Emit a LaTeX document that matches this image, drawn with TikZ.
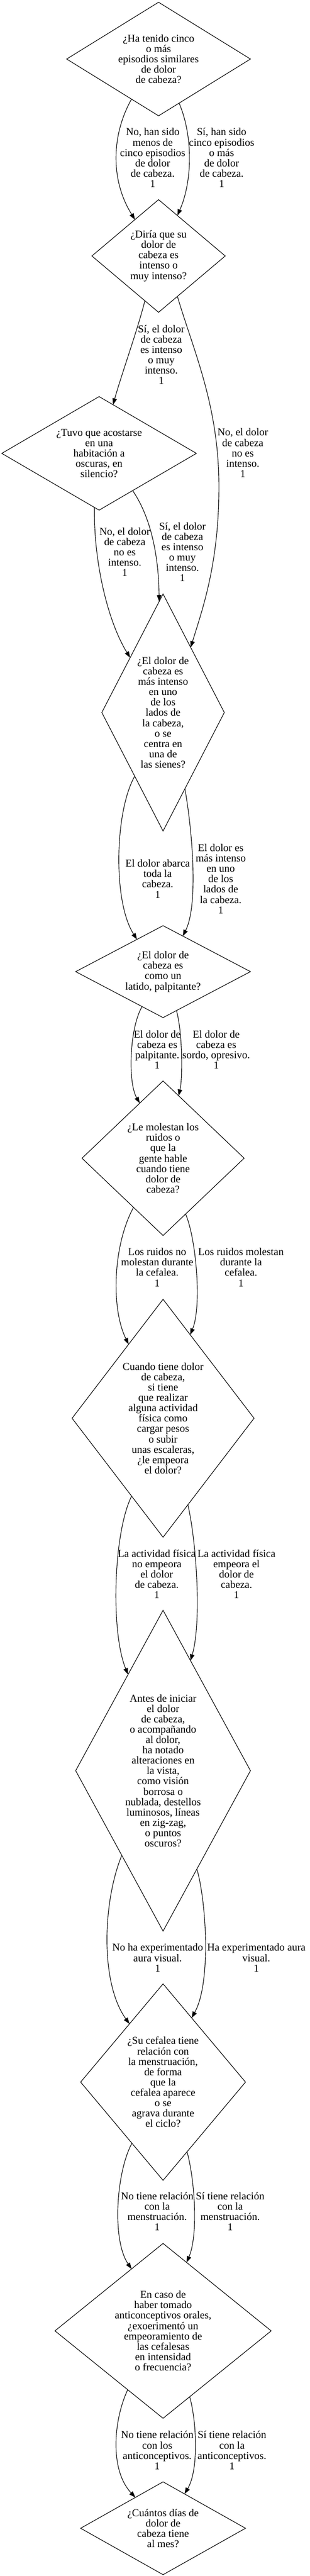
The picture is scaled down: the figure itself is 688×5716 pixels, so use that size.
\documentclass[tikz,border=0pt]{standalone}
\usepackage{fontspec}
\setmainfont{Liberation Serif}
\usetikzlibrary{shapes.geometric,arrows.meta}
\newcommand{\dfont}{\fontsize{23.4}{23}\selectfont}
\tikzset{
  qnode/.style={shape=diamond, draw, line width=1.3pt, inner sep=0pt, outer sep=0pt},
  qtext/.style={align=center, font=\dfont, inner sep=0pt},
  elabel/.style={align=center, font=\dfont, inner sep=0pt},
  flow/.style={draw, line width=1.3pt, -{Triangle[length=14pt,width=10pt]}},
}
\begin{document}
\begin{tikzpicture}[x=1pt,y=-1pt]
\useasboundingbox (0,0) rectangle (688,5716);

% decision nodes
\node[qnode, minimum width=408pt, minimum height=252pt,
  label={[qtext]center:{¿Ha tenido cinco\\o más\\episodios similares\\de dolor\\de cabeza?}}] (n1) at (352,131) {};
\node[qnode, minimum width=296pt, minimum height=250pt,
  label={[qtext]center:{¿Diría que su\\dolor de\\cabeza es\\intenso o\\muy intenso?}}] (n2) at (352,568) {};
\node[qnode, minimum width=432pt, minimum height=252pt,
  label={[qtext]center:{¿Tuvo que acostarse\\en una\\habitación a\\oscuras, en\\silencio?}}] (n3) at (220,1006) {};
\node[qnode, minimum width=272pt, minimum height=526pt,
  label={[qtext]center:{¿El dolor de\\cabeza es\\más intenso\\en uno\\de los\\lados de\\la cabeza,\\o se\\centra en\\una de\\las sienes?}}] (n4) at (362,1581) {};
\node[qnode, minimum width=388pt, minimum height=204pt,
  label={[qtext]center:{¿El dolor de\\cabeza es\\como un\\latido, palpitante?}}] (n5) at (362,2156) {};
\node[qnode, minimum width=360pt, minimum height=343pt,
  label={[qtext]center:{¿Le molestan los\\ruidos o\\que la\\gente hable\\cuando tiene\\dolor de\\cabeza?}}] (n6) at (362,2570) {};
\node[qnode, minimum width=404pt, minimum height=528pt,
  label={[qtext]center:{Cuando tiene dolor\\de cabeza,\\si tiene\\que realizar\\alguna actividad\\física como\\cargar pesos\\o subir\\unas escaleras,\\¿le empeora\\el dolor?}}] (n7) at (362,3147) {};
\node[qnode, minimum width=388pt, minimum height=712pt,
  label={[qtext]center:{Antes de iniciar\\el dolor\\de cabeza,\\o acompañando\\al dolor,\\ha notado\\alteraciones en\\la vista,\\como visión\\borrosa o\\nublada, destellos\\luminosos, líneas\\en zig-zag,\\o puntos\\oscuros?}}] (n8) at (362,3929) {};
\node[qnode, minimum width=366pt, minimum height=436pt,
  label={[qtext]center:{¿Su cefalea tiene\\relación con\\la menstruación,\\de forma\\que la\\cefalea aparece\\o se\\agrava durante\\el ciclo?}}] (n9) at (362,4620) {};
\node[qnode, minimum width=480pt, minimum height=388pt,
  label={[qtext]center:{En caso de\\haber tomado\\anticonceptivos orales,\\¿exoerimentó un\\empeoramiento de\\las cefalesas\\en intensidad\\o frecuencia?}}] (n10) at (362,5172) {};
\node[qnode, minimum width=366pt, minimum height=206pt,
  label={[qtext]center:{¿Cuántos días de\\dolor de\\cabeza tiene\\al mes?}}] (n11) at (362,5610) {};

% connectors
\draw[flow] (n1.236) .. controls (247,300) and (245,400) .. (n2.123);
\draw[flow] (n1.295) .. controls (428,300) and (428,400) .. (n2.65);
\draw[flow] (n2.253) .. controls (306,730) and (270,830) .. (n3.74);
\draw[flow] (n2.295) .. controls (430,780) and (486,900) .. (486,1080)
                     .. controls (486,1250) and (450,1350) .. (n4.67);
\draw[flow] (n3.265) .. controls (208,1250) and (240,1380) .. (n4.121);
\draw[flow] (n3.312) .. controls (330,1140) and (352,1220) .. (n4.92);
\draw[flow] (n4.246) .. controls (255,1800) and (250,2000) .. (n5.129);
\draw[flow] (n4.286) .. controls (428,1850) and (440,2010) .. (n5.61);
\draw[flow] (n5.239) .. controls (288,2280) and (283,2400) .. (n6.113);
\draw[flow] (n5.289) .. controls (405,2290) and (406,2390) .. (n6.76);
\draw[flow] (n6.239) .. controls (252,2760) and (245,2900) .. (n7.115);
\draw[flow] (n6.292) .. controls (436,2750) and (448,2900) .. (n7.72);
\draw[flow] (n7.248) .. controls (252,3400) and (245,3620) .. (n8.110);
\draw[flow] (n7.286) .. controls (436,3420) and (448,3600) .. (n8.76);
\draw[flow] (n8.244) .. controls (228,4220) and (222,4400) .. (n9.120);
\draw[flow] (n8.289) .. controls (458,4220) and (469,4400) .. (n9.66);
\draw[flow] (n9.243) .. controls (258,4820) and (248,4970) .. (n10.117);
\draw[flow] (n9.289) .. controls (433,4840) and (440,4960) .. (n10.71);
\draw[flow] (n10.239) .. controls (252,5370) and (243,5480) .. (n11.132);
\draw[flow] (n10.292) .. controls (436,5370) and (442,5480) .. (n11.58);

% edge labels
\node[elabel] (l1) at (339,350) {No, han sido\\menos de\\cinco episodios\\de dolor\\de cabeza.\\1};
\node[elabel] (l2) at (492,350) {Sí, han sido\\cinco episodios\\o más\\de dolor\\de cabeza.\\1};
\node[elabel] (l3) at (358,787) {Sí, el dolor\\de cabeza\\es intenso\\o muy\\intenso.\\1};
\node[elabel] (l4) at (539,1005) {No, el dolor\\de cabeza\\no es\\intenso.\\1};
\node[elabel] (l5) at (277,1225) {No, el dolor\\de cabeza\\no es\\intenso.\\1};
\node[elabel] (l6) at (405,1225) {Sí, el dolor\\de cabeza\\es intenso\\o muy\\intenso.\\1};
\node[elabel] (l7) at (350,1950) {El dolor abarca\\toda la\\cabeza.\\1};
\node[elabel] (l8) at (490,1950) {El dolor es\\más intenso\\en uno\\de los\\lados de\\la cabeza.\\1};
\node[elabel] (l9) at (349,2329) {El dolor de\\cabeza es\\palpitante.\\1};
\node[elabel] (l10) at (480,2329) {El dolor de\\cabeza es\\sordo, opresivo.\\1};
\node[elabel] (l11) at (349,2812) {Los ruidos no\\molestan durante\\la cefalea.\\1};
\node[elabel] (l12) at (535,2812) {Los ruidos molestan\\durante la\\cefalea.\\1};
\node[elabel] (l13) at (348,3493) {La actividad física\\no empeora\\el dolor\\de cabeza.\\1};
\node[elabel] (l14) at (525,3493) {La actividad física\\empeora el\\dolor de\\cabeza.\\1};
\node[elabel] (l15) at (350,4344) {No ha experimentado\\aura visual.\\1};
\node[elabel] (l16) at (569,4344) {Ha experimentado aura\\visual.\\1};
\node[elabel] (l17) at (349,4907) {No tiene relación\\con la\\menstruación.\\1};
\node[elabel] (l18) at (511,4907) {Sí tiene relación\\con la\\menstruación.\\1};
\node[elabel] (l19) at (349,5437) {No tiene relación\\con los\\anticonceptivos.\\1};
\node[elabel] (l20) at (515,5437) {Sí tiene relación\\con la\\anticonceptivos.\\1};
\end{tikzpicture}
\end{document}
